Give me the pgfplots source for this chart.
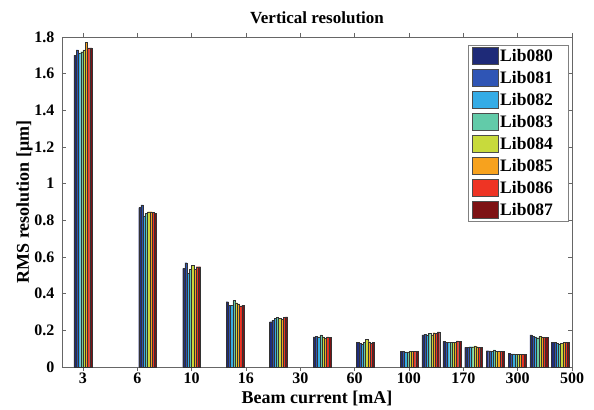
\documentclass[border=0pt]{standalone}
\usepackage{fontspec}
\setmainfont{Liberation Serif}
\usepackage{pgfplots}
\usepackage{pgfplotstable}
\pgfplotsset{compat=1.18}

\definecolor{c0}{HTML}{1E2A78}
\definecolor{c1}{HTML}{2F55B5}
\definecolor{c2}{HTML}{35ACE6}
\definecolor{c3}{HTML}{62CBA9}
\definecolor{c4}{HTML}{C8DA3C}
\definecolor{c5}{HTML}{F7A21E}
\definecolor{c6}{HTML}{EE3424}
\definecolor{c7}{HTML}{7E1214}

\pgfplotstableread{
x s0 s1 s2 s3 s4 s5 s6 s7
1.00 1.700 1.730 1.710 1.720 1.730 1.770 1.740 1.740
2.19 0.870 0.885 0.825 0.840 0.847 0.847 0.842 0.840
3.00 0.538 0.569 0.511 0.532 0.554 0.532 0.547 0.547
3.80 0.356 0.338 0.338 0.362 0.351 0.344 0.333 0.338
4.60 0.247 0.256 0.266 0.271 0.266 0.260 0.271 0.274
5.40 0.165 0.169 0.165 0.175 0.165 0.156 0.164 0.162
6.20 0.135 0.129 0.125 0.133 0.151 0.138 0.129 0.133
7.00 0.085 0.085 0.083 0.083 0.085 0.085 0.085 0.085
7.40 0.175 0.180 0.175 0.184 0.175 0.187 0.184 0.191
7.79 0.140 0.136 0.133 0.133 0.133 0.136 0.142 0.140
8.19 0.107 0.107 0.111 0.111 0.115 0.111 0.107 0.107
8.59 0.089 0.088 0.085 0.093 0.085 0.085 0.085 0.085
8.99 0.075 0.071 0.071 0.069 0.069 0.069 0.069 0.069
9.39 0.175 0.169 0.165 0.160 0.169 0.165 0.162 0.162
9.79 0.135 0.133 0.129 0.125 0.129 0.133 0.133 0.135
}\data

\pgfplotsset{
  mybar/.style={fill=#1, draw=black!80, line width=0.3pt,
    legend image code/.code={\draw[fill=#1,draw=black!70,line width=0.6pt] (0pt,-8.5pt) rectangle (26pt,8.5pt);}},
}
\newcommand{\legtxt}[1]{\makebox[63pt][l]{#1}}

\begin{document}
\begin{tikzpicture}
\begin{axis}[
  at={(0pt,0pt)}, anchor=south west,
  scale only axis, width=510pt, height=330pt,
  xmin=0.614, xmax=10, ymin=0, ymax=1.8,
  xtick={1,2,3,4,5,6,7,8,9,10},
  xticklabels={3,6,10,16,30,60,100,170,300,500},
  ytick={0,0.2,0.4,0.6,0.8,1,1.2,1.4,1.6,1.8},
  yticklabel style={/pgf/number format/fixed, xshift=-4pt},
  xticklabel style={yshift=2pt},
  /pgf/number format/assume math mode=true,
  ticklabel style={font=\fontsize{16}{19}\selectfont\bfseries},
  tick align=inside, major tick length=4pt,
  tick style={black!60, line width=0.6pt},
  axis line style={black!60, line width=0.6pt},
  title={Vertical resolution},
  title style={font=\fontsize{17}{20}\selectfont\bfseries, yshift=4pt},
  xlabel={Beam current [mA]},
  ylabel={RMS resolution [μm]},
  label style={font=\fontsize{18}{21}\selectfont\bfseries},
  xlabel style={yshift=-1pt},
  ylabel style={yshift=-5pt},
  ybar, bar width=0.0413,
  legend style={at={(0.993,0.976)}, anchor=north east, draw=black!50,
    font=\fontsize{17.5}{20}\selectfont\bfseries, row sep=4.4pt,
    inner xsep=3pt, inner ysep=2pt, /tikz/every even column/.append style={column sep=2pt}},
  legend cell align=left,
]
\addplot[mybar=c0, bar shift=-0.14455] table[x=x,y=s0] {\data};
\addplot[mybar=c1, bar shift=-0.10325] table[x=x,y=s1] {\data};
\addplot[mybar=c2, bar shift=-0.06195] table[x=x,y=s2] {\data};
\addplot[mybar=c3, bar shift=-0.02065] table[x=x,y=s3] {\data};
\addplot[mybar=c4, bar shift=0.02065] table[x=x,y=s4] {\data};
\addplot[mybar=c5, bar shift=0.06195] table[x=x,y=s5] {\data};
\addplot[mybar=c6, bar shift=0.10325] table[x=x,y=s6] {\data};
\addplot[mybar=c7, bar shift=0.14455] table[x=x,y=s7] {\data};
\legend{\legtxt{Lib080},\legtxt{Lib081},\legtxt{Lib082},\legtxt{Lib083},\legtxt{Lib084},\legtxt{Lib085},\legtxt{Lib086},\legtxt{Lib087}}
\end{axis}
\path[use as bounding box] (-62pt,-40pt) rectangle (532pt,367pt);
\end{tikzpicture}
\end{document}
